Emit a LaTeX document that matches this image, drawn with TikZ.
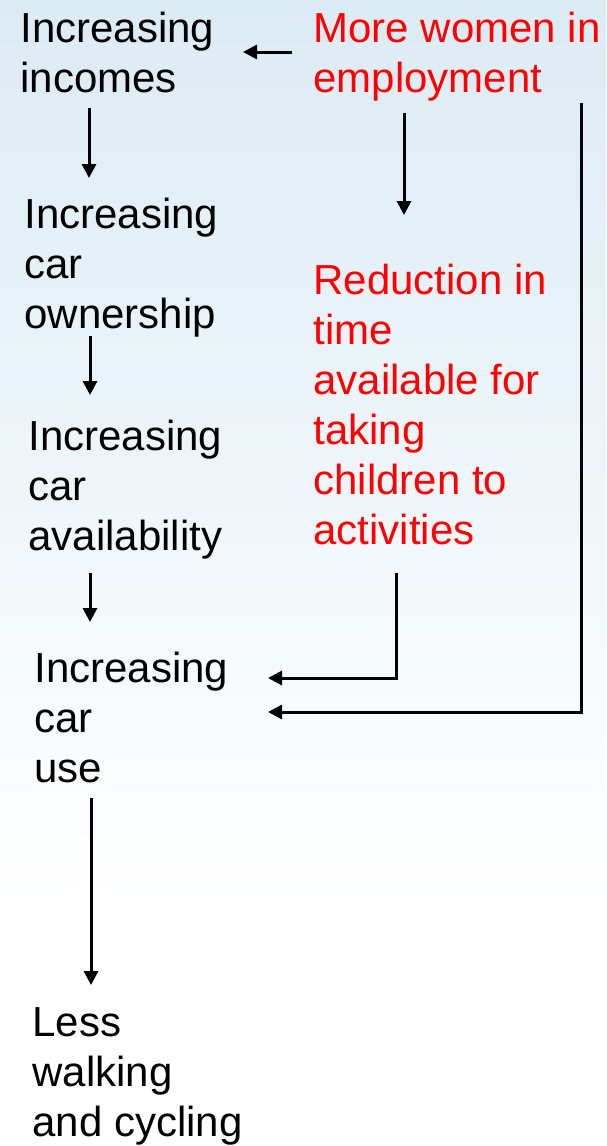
\documentclass[tikz,border=0pt]{standalone}
\usepackage{fontspec}
\setmainfont{Liberation Sans}
\usetikzlibrary{arrows.meta}
\definecolor{slideblue}{RGB}{219,235,244}
\definecolor{causered}{RGB}{255,0,0}
\tikzstyle{factor}=[inner sep=0pt, anchor=base west, align=left, font=\fontsize{21}{25}\selectfont]
\tikzstyle{cause}=[factor, text=causered]
\tikzstyle{link}=[line width=1.5pt, -{Triangle[length=7pt,width=7pt]}]

\begin{document}
\begin{tikzpicture}[x=0.5pt,y=-0.5pt]
		% slide background
		\fill[top color=slideblue, bottom color=white] (0,0) rectangle (606,900);
		\fill[white] (0,899) rectangle (606,1146);
		\useasboundingbox (0,0) rectangle (606,1146);

		% left column (placed by the baseline of the last line)
		\node[factor] (incomes) at (20,92) {Increasing\\incomes};
		\node[factor] (ownership) at (24,328) {Increasing\\car\\ownership};
		\node[factor] (availability) at (28,550) {Increasing\\car\\availability};
		\node[factor] (use) at (34,782) {Increasing\\car\\use};
		\node[factor] (walking) at (32,1136) {Less\\walking\\and cycling};

		% right column
		\node[cause] (women) at (313,92) {More women in\\employment};
		\node[cause] (time) at (313,544) {Reduction in\\time\\available for\\taking\\children to\\activities};

		% arrow ends
		\coordinate (womenLeft) at (292,52);
		\coordinate (incomesIn) at (243,52);
		\coordinate (incomesOut) at (89,108);
		\coordinate (ownershipIn) at (89,178);
		\coordinate (ownershipOut) at (90,336);
		\coordinate (availabilityIn) at (90,395);
		\coordinate (availabilityOut) at (90,573);
		\coordinate (useIn) at (90,622);
		\coordinate (useOut) at (91,798);
		\coordinate (walkingIn) at (91,985);
		\coordinate (womenOut) at (404,113);
		\coordinate (timeIn) at (404,215);
		\coordinate (timeOut) at (396,573);
		\coordinate (timeUse) at (268,678);
		\coordinate (womenDown) at (581,103);
		\coordinate (womenUse) at (268,712);

		\draw[link] (womenLeft) -- (incomesIn);
		\draw[link] (incomesOut) -- (ownershipIn);
		\draw[link] (ownershipOut) -- (availabilityIn);
		\draw[link] (availabilityOut) -- (useIn);
		\draw[link] (useOut) -- (walkingIn);
		\draw[link] (womenOut) -- (timeIn);
		\draw[link] (timeOut) |- (timeUse);
		\draw[link] (womenDown) |- (womenUse);
\end{tikzpicture}
\end{document}
